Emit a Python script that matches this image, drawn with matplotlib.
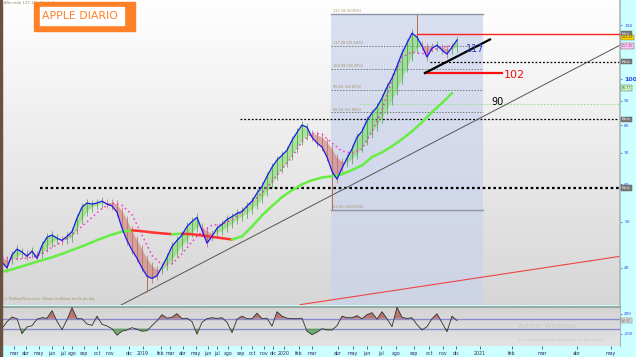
import numpy as np
import matplotlib
matplotlib.use("Agg")
import matplotlib.pyplot as plt
from matplotlib.collections import LineCollection
from matplotlib.colors import LinearSegmentedColormap

# ---------------- data ----------------
# fast average (blue line), one value per sample
fast = [41.1, 40.0, 42.6, 43.8, 43.2, 42.3, 43.4, 41.9, 44.6, 46.4,
        46.9, 46.2, 45.7, 46.6, 47.7, 50.9, 53.7, 54.8, 54.5, 54.8,
        55.3, 54.5, 54.0, 52.4, 48.5, 45.7, 43.6, 41.9, 40.0, 38.4,
        38.0, 38.5, 40.2, 42.1, 44.4, 45.7, 46.9, 48.9, 50.1, 51.1,
        48.0, 45.1, 46.6, 48.5, 49.4, 50.6, 51.3, 52.1, 52.6, 54.0,
        55.3, 57.5, 59.4, 62.4, 65.2, 67.5, 69.1, 70.8, 74.3, 77.2,
        80.0, 79.2, 75.4, 73.3, 71.9, 68.5, 63.9, 61.5, 64.9, 68.1,
        71.2, 75.4, 77.6, 81.9, 84.8, 87.3, 91.2, 96.2, 100.5, 106.5,
        113.4, 119.1, 125.0, 122.6, 117.4, 111.3, 116.1, 117.9, 115.1, 112.9,
        116.7, 120.9]
# slower average (edge of the shaded band)
slow = [42.0, 41.5, 41.5, 42.3, 42.8, 42.8, 42.8, 42.6, 42.8, 44.0,
        45.2, 45.8, 45.8, 45.8, 46.3, 48.0, 50.5, 52.5, 53.6, 54.2,
        54.6, 54.8, 54.8, 54.4, 52.8, 50.5, 48.0, 45.8, 43.8, 41.8,
        40.4, 39.6, 39.6, 40.3, 41.5, 43.0, 44.4, 45.8, 47.3, 48.6,
        48.8, 47.8, 47.2, 47.3, 47.8, 48.6, 49.5, 50.4, 51.2, 52.0,
        53.0, 54.2, 55.8, 57.8, 60.0, 62.4, 64.6, 66.5, 68.8, 71.4,
        74.0, 76.0, 76.6, 76.2, 75.4, 73.8, 71.2, 68.3, 66.9, 66.7,
        67.6, 69.4, 71.5, 74.1, 76.8, 79.5, 82.6, 86.2, 90.0, 94.5,
        99.8, 105.5, 111.5, 116.0, 117.8, 117.0, 116.8, 116.9, 116.5, 115.6,
        115.5, 116.6]
# pink dotted average, one value every second sample
pink = [42.1, 41.8, 41.8, 42.1, 42.8, 44.2, 45.4, 47.0, 48.9, 51.1,
        53.4, 54.8, 54.2, 51.8, 46.9, 42.5, 40.6, 40.8, 42.8, 45.4,
        47.7, 49.2, 49.4, 50.6, 52.4, 55.0, 57.5, 60.8, 64.6, 68.5,
        73.8, 76.9, 76.5, 73.3, 70.5, 69.8, 71.2, 77.6, 86.0, 99.5,
        111.3, 114.0, 113.0, 115.1, 116.8, 117.4]
# long average (green / red when falling), one value every second sample
sma = [39.2, 39.7, 40.3, 40.9, 41.5, 42.1, 42.8, 43.6, 44.4, 45.3,
       46.2, 47.0, 47.7, 48.0, 47.8, 47.5, 47.3, 47.1, 47.2, 47.1,
       46.8, 46.5, 46.2, 45.9, 46.6, 48.9, 51.6, 54.0, 56.4, 58.3,
       60.0, 61.2, 62.0, 62.4, 63.0, 64.3, 65.8, 68.5, 70.1, 72.2,
       74.7, 77.6, 81.1, 85.2, 89.0, 93.4]
# notable wick extremes: (sample, price)
wick_samples = [29, 66, 83]
wick_prices = [35.5, 52.91, 137.18]
# oscillator (lower panel)
cci = [-95, 40, 134, 100, -200, -65, -40, 90, 120, 110,
       260, 48, -120, 80, 320, 100, 100, -5, -35, 150,
       -10, -45, -100, -230, -150, -125, -80, -110, -150, -140,
       -37, 60, 180, 110, 130, 200, 100, 110, 40, -210,
       30, 100, 120, 105, 120, 30, -180, 90, 150, 100,
       100, 210, 100, 110, -50, 240, 150, 110, 100, 100,
       110, -150, -220, -170, -100, -125, -125, -40, 150, 120,
       120, 160, 100, 180, 220, 90, 240, 100, -60, 330,
       130, 105, 120, -20, -125, -60, 100, 200, 20, -160,
       150, 62]

fib_pct = [0.0, 23.6, 38.2, 50.0, 61.8, 100.0]
fib_val = [137.18, 117.28, 104.98, 95.04, 85.10, 52.91]

month_labels = ["mar", "abr", "may", "jun", "jul", "ago", "sep", "oct", "nov", "dic",
                "2019", "feb", "mar", "abr", "may", "jun", "jul", "ago", "sep", "oct",
                "nov", "dic", "2020", "feb", "mar", "abr", "may", "jun", "jul", "ago",
                "sep", "oct", "nov", "dic", "2021", "feb", "mar", "abr", "may"]
month_ticks = [2.4, 4.8, 7.4, 10.0, 12.2, 14.0, 16.4, 19.0, 21.6, 25.4,
               28.2, 31.8, 33.6, 36.2, 38.8, 41.2, 43.0, 45.2, 47.8, 50.0,
               52.4, 54.2, 56.4, 59.4, 62.0, 67.2, 70.2, 73.0, 75.8, 78.8,
               82.4, 85.4, 88.2, 90.8, 95.6, 102.0, 108.0, 115.0, 121.8]

price_ticks = [40, 50, 60, 70, 80, 90, 100, 130]

# ---------------- figure ----------------
W, H = 636, 357
fig = plt.figure(figsize=(W / 100, H / 100), dpi=100)
fig.patch.set_facecolor("#ccffff")

def fx(px):
    return px / W

def fy(py):
    return 1 - py / H

XMAX = (620 - 2) / 5.0
ax = fig.add_axes([fx(2), fy(305), fx(618), 305 / H])
axi = fig.add_axes([fx(2), fy(346), fx(618), 39 / H])

x = np.arange(len(fast))
x2 = np.arange(len(pink)) * 2
fast_a = np.array(fast)
slow_a = np.array(slow)

# background gradient
grad = np.linspace(1.0, 0.0, 256).reshape(-1, 1)
bgcm = LinearSegmentedColormap.from_list("bg", ["#d6d6d6", "#ffffff"])
ax.imshow(grad[::-1], extent=[0, 1, 0, 1], transform=ax.transAxes, cmap=bgcm,
          aspect="auto", zorder=0, origin="lower")

ax.set_yscale("log")
ax.set_ylim(33.4, 146.8)
ax.set_xlim(0, XMAX)

# fibonacci shaded zone
fx0, fx1 = 65.8, 96.2
ax.fill_between([fx0, fx1], 33.4, fib_val[0], color="#cad3ec", alpha=0.7, zorder=1, lw=0)
for p, v in zip(fib_pct, fib_val):
    if p in (0.0, 100.0):
        ax.plot([fx0, fx1], [v, v], color="#8c96a6", lw=1.0, zorder=2)
    else:
        ax.plot([fx0, fx1], [v, v], color="#7a7a7a", lw=0.7, ls=(0, (1.5, 1.5)), zorder=2)
    ax.text(fx0 + 0.3, v * 1.004, f"{v:.2f} ({p:.2f}%)", fontsize=2.6,
            color="#a09060", va="bottom", ha="left", zorder=3)

# horizontal / trend lines
ax.plot([7.6, XMAX], [58.9, 58.9], color="black", lw=1.6, ls=(0, (1.2, 1.2)), zorder=2)
ax.plot([47.6, XMAX], [82.3, 82.3], color="black", lw=0.9, ls=(0, (1.5, 1.5)), zorder=2)
ax.plot([85.6, XMAX], [108.8, 108.8], color="black", lw=0.9, ls=(0, (1.5, 1.5)), zorder=2)
ax.plot([71.6, XMAX], [88.6, 88.6], color="#9ee09a", lw=0.8, ls=(0, (1.5, 1.5)), zorder=2)
ax.plot([23.6, XMAX], [33.3, 117.9], color="#555555", lw=0.7, zorder=2)
ax.plot([59.6, XMAX], [33.45, 42.3], color="#ee4444", lw=0.8, zorder=2)
ax.plot([83.0, XMAX], [124.5, 124.5], color="#ff2020", lw=1.0, zorder=6)
ax.plot([84.6, 100.0], [103.0, 103.0], color="#ff1010", lw=1.6, zorder=6)
ax.plot([84.6, 97.6], [103.0, 121.2], color="black", lw=1.6, zorder=6)

# shaded band and candles
up = fast_a >= slow_a
ax.fill_between(x, fast_a, slow_a, where=up, interpolate=True, color="#6fd850", alpha=0.5, lw=0, zorder=3)
ax.fill_between(x, fast_a, slow_a, where=~up, interpolate=True, color="#c86860", alpha=0.5, lw=0, zorder=3)
ccol = np.where(up, "#2f9a2a", "#c05a50")
ax.vlines(x, np.minimum(fast_a, slow_a) * 0.98, np.maximum(fast_a, slow_a) * 1.02,
          colors=ccol, lw=0.6, alpha=0.75, zorder=3)
wick_base = [min(fast[i], slow[i]) if p < fast[i] else max(fast[i], slow[i])
             for i, p in zip(wick_samples, wick_prices)]
ax.vlines(wick_samples, wick_base, wick_prices, colors="#b07050", lw=0.7, zorder=3)

# pink dotted average
ax.plot(x2, pink, color="#ff30d0", lw=1.1, ls=(0, (1.0, 2.0)), zorder=4)

# long average, red where falling
sma_a = np.array(sma)
pts = np.column_stack([x2, sma_a]).reshape(-1, 1, 2)
segs = np.concatenate([pts[:-1], pts[1:]], axis=1)
scol = np.where(np.diff(sma_a) >= 0, "#66ee44", "#ff3333")
ax.add_collection(LineCollection(segs, colors=scol, lw=1.8, zorder=4, capstyle="round"))

# blue fast line
ax.plot(x, fast, color="#1a1aee", lw=0.9, zorder=5)

# annotations
ax.text(94.6, 115.7, "117", color="#2a3fc8", fontsize=7, ha="center", va="center", zorder=7)
ax.text(102.4, 102.0, "102", color="#ee1010", fontsize=8, ha="center", va="center", zorder=7)
ax.text(99.0, 89.6, "90", color="black", fontsize=7, ha="center", va="center", zorder=7)

# right axis
ax.yaxis.tick_right()
ax.yaxis.set_minor_locator(matplotlib.ticker.NullLocator())
ax.set_yticks(price_ticks)
ax.set_yticklabels([str(t) for t in price_ticks])
ax.tick_params(axis="y", length=1.5, width=0.5, pad=1.5, labelsize=3.2,
               colors="#3344ee", labelcolor="#3344ee")
for lab in ax.get_yticklabels():
    if lab.get_text() == "100":
        lab.set_fontsize(4.5)
        lab.set_fontweight("bold")
ax.set_xticks([])
for s in ax.spines.values():
    s.set_visible(False)
ax.spines["right"].set_visible(True)
ax.spines["right"].set_color("#a8b8b8")
ax.spines["right"].set_linewidth(1.2)

# value boxes on the right
boxes = [(124.5, "Horiz.", "#7a7a7a", "white"),
         (122.41, "122.41", "#ffd000", "#333333"),
         (117.35, "117.35", "#ffc8f0", "#8030a0"),
         (108.8, "Horiz.", "#7a7a7a", "white"),
         (95.77, "95.77", "#c8f0c0", "#408040"),
         (82.3, "Horiz.", "#7a7a7a", "white"),
         (58.9, "Horiz.", "#7a7a7a", "white")]
for v, t, fc, tc in boxes:
    ax.annotate(t, xy=(1.0, v), xycoords=("axes fraction", "data"), xytext=(1.2, 0),
                textcoords="offset points", fontsize=2.3, color=tc, va="center", ha="left",
                bbox=dict(boxstyle="square,pad=0.2", fc=fc, ec="#555555", lw=0.3),
                annotation_clip=False, zorder=8)

ax.text(0.003, 0.012, "© ProRealTime.com  Datos recibidos en fin de día", transform=ax.transAxes,
        fontsize=2.6, color="#a09060", ha="left", va="bottom")

# ---------------- oscillator panel ----------------
igrad = np.linspace(0, 1, 64).reshape(-1, 1)
axi.imshow(igrad, extent=[0, 1, 0, 1], transform=axi.transAxes,
           cmap=LinearSegmentedColormap.from_list("bg2", ["#d4d4d4", "#e2e2e2"]),
           aspect="auto", zorder=0)
cci_a = np.array(cci, dtype=float)
axi.set_xlim(0, XMAX)
axi.set_ylim(-446, 334)
axi.axhline(100, color="#8a8ad0", lw=1.0, zorder=1)
axi.axhline(-100, color="#8a8ad0", lw=1.0, zorder=1)
axi.fill_between(x, cci_a, 100, where=cci_a > 100, interpolate=True, color="#b06058", alpha=0.8, lw=0, zorder=2)
axi.fill_between(x, cci_a, -100, where=cci_a < -100, interpolate=True, color="#5aa050", alpha=0.8, lw=0, zorder=2)
axi.plot(x, cci_a, color="#303030", lw=0.6, zorder=3)
axi.yaxis.tick_right()
axi.set_yticks([200, -200])
axi.set_yticklabels(["200", "-200"])
axi.tick_params(axis="y", length=1.5, width=0.5, pad=1.5, labelsize=3.0, colors="#3344ee")
axi.set_xticks(month_ticks)
axi.set_xticklabels(month_labels)
axi.tick_params(axis="x", length=2, width=0.5, pad=1.5, labelsize=3.4, colors="#2a2a60")
for s in axi.spines.values():
    s.set_visible(False)
axi.spines["top"].set_visible(True)
axi.spines["top"].set_color("#98aaa2")
axi.spines["top"].set_linewidth(1.5)
axi.spines["right"].set_visible(True)
axi.spines["right"].set_color("#a8b8b8")
axi.annotate(f"{cci_a[-1]:.2f}", xy=(1.0, cci_a[-1]), xycoords=("axes fraction", "data"),
             xytext=(1.2, 0), textcoords="offset points", fontsize=2.3, color="#333333",
             va="center", ha="left", annotation_clip=False,
             bbox=dict(boxstyle="square,pad=0.2", fc="#e8e8e8", ec="#555555", lw=0.3))
axi.text(0.835, 0.5, "Activar Windows", transform=axi.transAxes, fontsize=5, color="#c8c8c8",
         ha="left", va="center", zorder=4)
axi.text(0.835, 0.15, "Ve a Configuración para activar Windows.", transform=axi.transAxes,
         fontsize=3, color="#c8c8c8", ha="left", va="center", zorder=4)

# ---------------- header / title box ----------------
fig.patches.append(plt.Rectangle((0, 0), fx(2), 1, transform=fig.transFigure,
                                 color="#6a5040", zorder=10))
fig.text(fx(4), fy(3), "Alto vida 137.18 · Apple Inc.", fontsize=2.8, color="#8a8a70",
         ha="left", va="center")
fig.patches.append(plt.Rectangle((fx(34), fy(31)), fx(101), 29 / H, transform=fig.transFigure,
                                 color="#ff8026", zorder=10))
fig.patches.append(plt.Rectangle((fx(40), fy(25)), fx(84), 18 / H, transform=fig.transFigure,
                                 color="white", zorder=11))
fig.text(fx(42), fy(16), "APPLE DIARIO", fontsize=7.8, color="#ff8026", ha="left",
         va="center", zorder=12)

fig.savefig("out.png", dpi=100, facecolor=fig.get_facecolor())
